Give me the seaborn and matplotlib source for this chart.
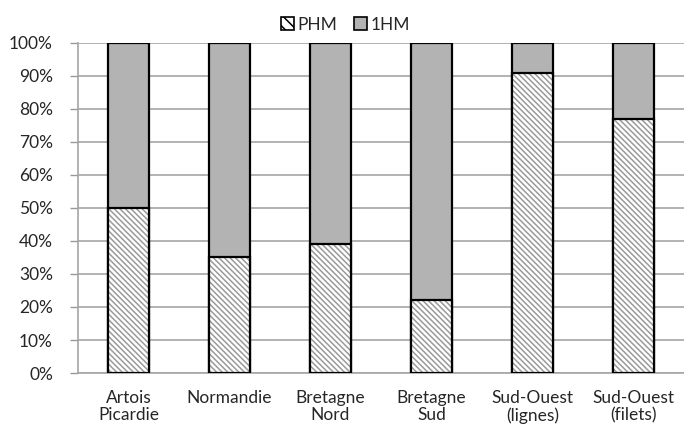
import matplotlib
matplotlib.use("Agg")
import matplotlib.pyplot as plt
import seaborn as sns
import pandas as pd
from matplotlib.patches import Patch

regions = ['Artois\nPicardie', 'Normandie', 'Bretagne\nNord', 'Bretagne\nSud', 'Sud-Ouest\n(lignes)', 'Sud-Ouest\n(filets)']
phm = [50, 35, 39, 22, 91, 77]
hm1 = [50, 65, 61, 78, 9, 23]
yticks = [0, 10, 20, 30, 40, 50, 60, 70, 80, 90, 100]

df = pd.DataFrame({'region': regions, 'PHM': phm, '1HM': hm1})
df['total'] = df['PHM'] + df['1HM']

sns.set_style("white")
plt.rcParams['font.family'] = ['Lato', 'DejaVu Sans']
plt.rcParams['hatch.linewidth'] = 1.1

fig = plt.figure(figsize=(6.84, 4.29), dpi=100)
ax = fig.add_axes([0.114, 0.1305, 0.886, 0.7695])

w = 0.41
hatch = '\\' * 6
fs = 12.5
# full stack in grey (1HM), PHM part drawn over it
sns.barplot(data=df, x='region', y='total', color='#b3b3b3', saturation=1,
            width=w, edgecolor='black', linewidth=1.6, ax=ax, zorder=2)
sns.barplot(data=df, x='region', y='PHM', color='white', saturation=1,
            width=w, edgecolor='#9a9a9a', linewidth=0, hatch=hatch, ax=ax, zorder=3)
sns.barplot(data=df, x='region', y='PHM', fill=False, saturation=1,
            width=w, edgecolor='black', linewidth=1.6, ax=ax, zorder=4)

ax.set_ylim(0, 100)
ax.set_xlim(-0.5, 5.5)
ax.set_yticks(yticks)
ax.set_yticklabels([f'{t}%' for t in yticks], fontsize=fs)
ax.tick_params(axis='x', labelsize=fs, length=0, pad=12)
ax.tick_params(axis='y', length=6, color='#999999', width=1, left=True, pad=12)
ax.yaxis.grid(True, color='#a6a6a6', lw=1.2)
ax.set_axisbelow(True)
ax.set_xlabel('')
ax.set_ylabel('')
for s in ['top', 'right']:
    ax.spines[s].set_visible(False)
for s in ['left', 'bottom']:
    ax.spines[s].set_color('#a6a6a6')
    ax.spines[s].set_linewidth(1.2)
for lbl in ax.get_xticklabels():
    lbl.set_linespacing(1.1)

handles = [Patch(facecolor='white', edgecolor='black', hatch='\\\\\\', lw=1.2, label='PHM'),
           Patch(facecolor='#b3b3b3', edgecolor='black', lw=1.2, label='1HM')]
fig.legend(handles=handles, loc='upper center', bbox_to_anchor=(0.505, 0.997), ncol=2,
           frameon=False, fontsize=fs, handlelength=0.75, handleheight=0.75,
           handletextpad=0.2, columnspacing=1.0)

fig.savefig('out.png', dpi=100)
